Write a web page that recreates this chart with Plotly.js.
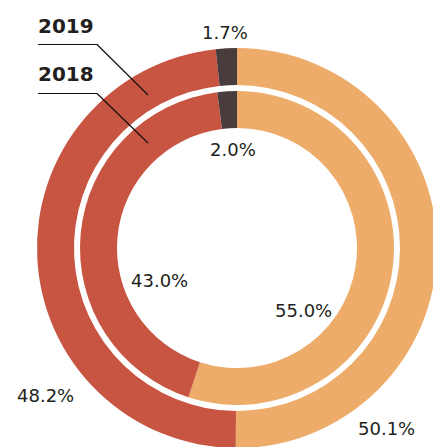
<!DOCTYPE html>
<html>
<head>
<meta charset="utf-8">
<script src="https://cdn.plot.ly/plotly-3.0.1.min.js"></script>
<style>
html,body{margin:0;padding:0;overflow:hidden;background:#fff;}
#chart{width:440px;height:450px;}
</style>
</head>
<body>
<div id="chart"></div>
<script>
// Data
var categories = ['Segment A', 'Segment B', 'Segment C'];
var years = ['2019', '2018'];
var values2019 = [50.1, 48.2, 1.7];
var values2018 = [55.0, 43.0, 2.0];
var colors = ['#EDAC69', '#C85541', '#483D3C'];

var W = 440, H = 450;
function px(x) { return x / W; }
function py(y) { return (H - y) / H; }

var cx = 237, cy = 248;
var rOuter = 200, rOuterHole = 163;
var rInner = 157, rInnerHole = 120;

function ring(vals, r, hole, name) {
  return {
    type: 'pie',
    name: name,
    labels: categories,
    values: vals,
    sort: false,
    direction: 'clockwise',
    rotation: 0,
    hole: hole / r,
    textinfo: 'none',
    hoverinfo: 'label+value',
    marker: {colors: colors, line: {width: 0}},
    domain: {x: [px(cx - r), px(cx + r)], y: [py(cy + r), py(cy - r)]},
    showlegend: false
  };
}

var data = [
  ring(values2019, rOuter, rOuterHole, years[0]),
  ring(values2018, rInner, rInnerHole, years[1])
];

var pctFont = {family: 'DejaVu Sans', size: 18, color: '#231F20'};
function pct(v) { return v.toFixed(1) + '%'; }
var labelPos2019 = [[386, 428], [45, 395], [225, 32]];
var labelPos2018 = [[303, 310], [159, 280], [233, 149]];

var annotations = [];
values2019.forEach(function (v, i) {
  annotations.push({xref: 'paper', yref: 'paper', x: px(labelPos2019[i][0]), y: py(labelPos2019[i][1]),
    text: pct(v), showarrow: false, font: pctFont, xanchor: 'center', yanchor: 'middle'});
});
values2018.forEach(function (v, i) {
  annotations.push({xref: 'paper', yref: 'paper', x: px(labelPos2018[i][0]), y: py(labelPos2018[i][1]),
    text: pct(v), showarrow: false, font: pctFont, xanchor: 'center', yanchor: 'middle'});
});
var yearFont = {family: 'DejaVu Sans', size: 20, color: '#231F20', weight: 'bold'};
annotations.push({xref: 'paper', yref: 'paper', x: px(36), y: py(26), text: '<b>' + years[0] + '</b>',
  showarrow: false, font: yearFont, xanchor: 'left', yanchor: 'middle'});
annotations.push({xref: 'paper', yref: 'paper', x: px(36), y: py(74), text: '<b>' + years[1] + '</b>',
  showarrow: false, font: yearFont, xanchor: 'left', yanchor: 'middle'});

var lineStyle = {color: '#111111', width: 1.2};
var shapes = [
  {type: 'line', xref: 'paper', yref: 'paper', x0: px(38), y0: py(44.5), x1: px(97), y1: py(44.5), line: lineStyle},
  {type: 'line', xref: 'paper', yref: 'paper', x0: px(97), y0: py(44.5), x1: px(148), y1: py(95), line: lineStyle},
  {type: 'line', xref: 'paper', yref: 'paper', x0: px(38), y0: py(93.5), x1: px(97), y1: py(93.5), line: lineStyle},
  {type: 'line', xref: 'paper', yref: 'paper', x0: px(97), y0: py(93.5), x1: px(148), y1: py(143), line: lineStyle}
];

var layout = {
  width: W, height: H,
  margin: {l: 0, r: 0, t: 0, b: 0},
  paper_bgcolor: '#ffffff',
  plot_bgcolor: '#ffffff',
  showlegend: false,
  annotations: annotations,
  shapes: shapes
};

Plotly.newPlot('chart', data, layout, {displayModeBar: false, staticPlot: true});
</script>
</body>
</html>
